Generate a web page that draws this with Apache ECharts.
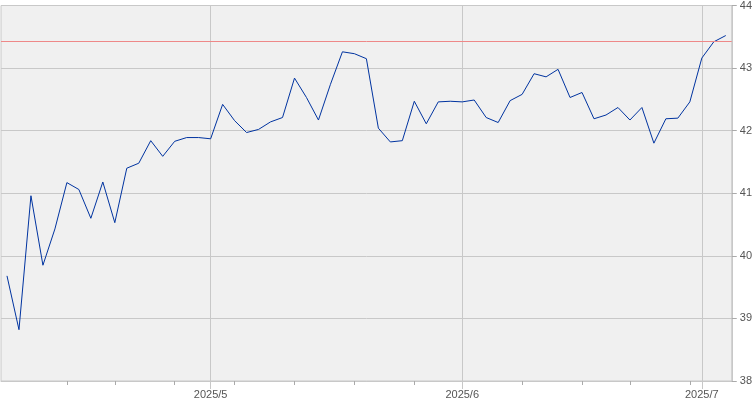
<!DOCTYPE html>
<html>
<head>
<meta charset="utf-8">
<script src="https://cdn.jsdelivr.net/npm/echarts@6/dist/echarts.min.js"></script>
<style>
  html, body { margin: 0; padding: 0; background: #fff; }
  #echarts { width: 755px; height: 400px; }
</style>
</head>
<body>
<div id="echarts"></div>
<script>
// 营业日 (2025/4/7 - 2025/7/3)
var dates = [
  '2025-04-07', '2025-04-08', '2025-04-09', '2025-04-10', '2025-04-11',
  '2025-04-14', '2025-04-15', '2025-04-16', '2025-04-17',
  '2025-04-21', '2025-04-22', '2025-04-23', '2025-04-24', '2025-04-25',
  '2025-04-28', '2025-04-29', '2025-04-30', '2025-05-01', '2025-05-02',
  '2025-05-05', '2025-05-06', '2025-05-07', '2025-05-08', '2025-05-09',
  '2025-05-12', '2025-05-13', '2025-05-14', '2025-05-15', '2025-05-16',
  '2025-05-19', '2025-05-20', '2025-05-21', '2025-05-22', '2025-05-23',
  '2025-05-27', '2025-05-28', '2025-05-29', '2025-05-30',
  '2025-06-02', '2025-06-03', '2025-06-04', '2025-06-05', '2025-06-06',
  '2025-06-09', '2025-06-10', '2025-06-11', '2025-06-12', '2025-06-13',
  '2025-06-16', '2025-06-17', '2025-06-18', '2025-06-20',
  '2025-06-23', '2025-06-24', '2025-06-25', '2025-06-26', '2025-06-27',
  '2025-06-30', '2025-07-01', '2025-07-02', '2025-07-03'
]
var prices = [
  39.68, 38.82, 40.96, 39.85, 40.43, 41.17, 41.06, 40.60, 41.18, 40.53,
  41.40, 41.48, 41.84, 41.59, 41.83, 41.89, 41.89, 41.87, 42.42, 42.16,
  41.97, 42.02, 42.14, 42.21, 42.84, 42.53, 42.17, 42.74, 43.26, 43.23,
  43.15, 42.04, 41.82, 41.84, 42.47, 42.11, 42.46, 42.47, 42.46, 42.49,
  42.21, 42.13, 42.48, 42.58, 42.91, 42.86, 42.98, 42.53, 42.61, 42.19,
  42.25, 42.37, 42.17, 42.37, 41.80, 42.19, 42.20, 42.46, 43.16, 43.42,
  43.52
]
var refLine = 43.43
var yTicks = [38, 39, 40, 41, 42, 43, 44]

function day(i) { return new Date(dates[i] + 'T00:00:00Z') }

// 每周第一个营业日
function isWeekStart(i) {
  return i > 0 && day(i).getUTCDay() <= day(i - 1).getUTCDay()
}
// 每月第一个营业日
function isMonthStart(i) {
  return i > 0 && day(i).getUTCMonth() !== day(i - 1).getUTCMonth()
}

var myChart = echarts.init(document.getElementById('echarts'))

var option = {
  animation: false,
  backgroundColor: '#ffffff',
  grid: {
    left: 1,
    right: 21,
    top: 3,
    bottom: 17,
    show: true,
    backgroundColor: '#f0f0f0',
    borderColor: '#c8c8c8',
    borderWidth: 1
  },
  xAxis: [{
    type: 'category',
    data: dates,
    boundaryGap: true,
    axisLine: { lineStyle: { color: '#c8c8c8' } },
    axisTick: {
      show: true,
      alignWithLabel: true,
      length: 4,
      interval: function (i) { return isWeekStart(i) },
      lineStyle: { color: '#aaaaaa' }
    },
    axisLabel: {
      interval: function (i) { return isMonthStart(i) },
      formatter: function (v) {
        var d = new Date(v + 'T00:00:00Z')
        return d.getUTCFullYear() + '/' + (d.getUTCMonth() + 1)
      },
      color: '#555',
      fontFamily: 'Liberation Sans',
      fontSize: 11,
      margin: 8
    },
    splitLine: {
      show: true,
      alignWithLabel: true,
      interval: function (i) { return isMonthStart(i) },
      lineStyle: { color: '#c8c8c8' }
    }
  }, {
    // 月初的长刻度
    type: 'category',
    data: dates,
    position: 'bottom',
    boundaryGap: true,
    axisLine: { show: false },
    axisTick: {
      show: true,
      alignWithLabel: true,
      length: 8,
      interval: function (i) { return isMonthStart(i) },
      lineStyle: { color: '#c8c8c8' }
    },
    axisLabel: { show: false },
    splitLine: { show: false }
  }],
  yAxis: {
    type: 'value',
    position: 'right',
    min: yTicks[0],
    max: yTicks[yTicks.length - 1],
    interval: 1,
    axisLine: { show: true, lineStyle: { color: '#c8c8c8' } },
    axisTick: { show: true, length: 5, lineStyle: { color: '#aaaaaa' } },
    axisLabel: {
      color: '#555',
      fontFamily: 'Liberation Sans',
      fontSize: 11,
      margin: 8
    },
    splitLine: { lineStyle: { color: '#c8c8c8' } }
  },
  series: [{
    type: 'line',
    data: prices,
    symbol: 'none',
    lineStyle: { color: '#0033a0', width: 1 },
    markLine: {
      silent: true,
      symbol: 'none',
      label: { show: false },
      lineStyle: { color: '#ee8888', width: 1, type: 'solid' },
      data: [{ yAxis: refLine }]
    }
  }]
}

myChart.setOption(option)
</script>
</body>
</html>
